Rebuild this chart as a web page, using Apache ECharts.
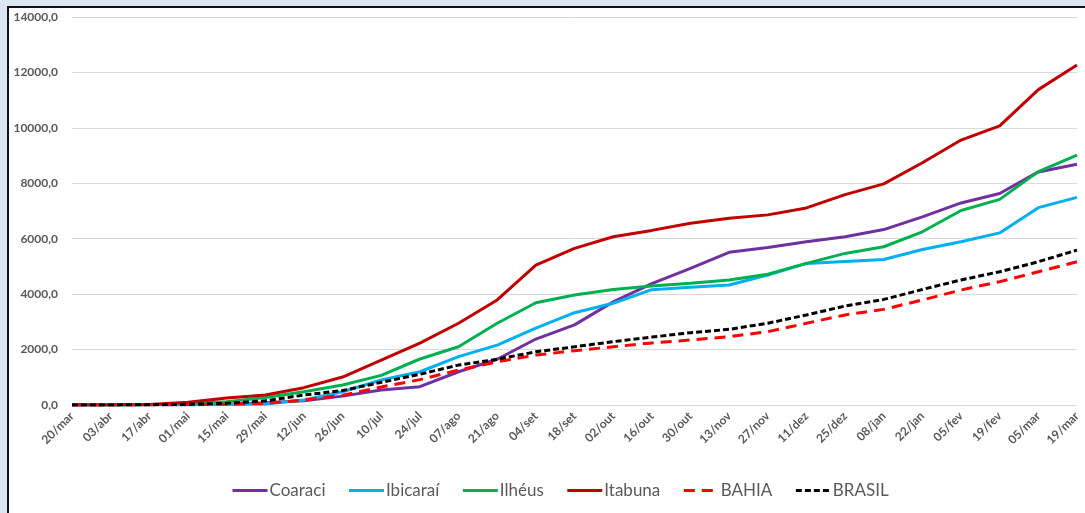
<!DOCTYPE html>
<html>
<head>
<meta charset="utf-8">
<script src="https://cdn.jsdelivr.net/npm/echarts@6/dist/echarts.min.js"></script>
<style>
  html, body { margin: 0; padding: 0; width: 1085px; height: 513px; overflow: hidden; background: #dce6f2; }
  #frame { position: absolute; left: 7px; top: 6px; width: 1100px; height: 530px; background: #fff;
           border-left: 2px solid #111; border-top: 2px solid #111; box-sizing: border-box; }
  #chart { position: absolute; left: 0; top: 0; width: 1085px; height: 513px; }
</style>
</head>
<body>
<div id="frame"></div>
<div id="chart"></div>
<script>
// Dates (fortnightly) on the category axis
const categories = ['20/mar','03/abr','17/abr','01/mai','15/mai','29/mai','12/jun','26/jun','10/jul','24/jul',
  '07/ago','21/ago','04/set','18/set','02/out','16/out','30/out','13/nov','27/nov','11/dez','25/dez',
  '08/jan','22/jan','05/fev','19/fev','05/mar','19/mar'];

// Accumulated values per locality
const coaraci  = [0, 0, 5, 10, 30, 80, 150, 320, 540, 660, 1200, 1650, 2380, 2890, 3720, 4380, 4930, 5510, 5680, 5890, 6070, 6330, 6790, 7290, 7630, 8410, 8690];
const ibicarai = [0, 0, 5, 10, 20, 40, 180, 480, 900, 1200, 1744, 2160, 2770, 3330, 3670, 4160, 4250, 4330, 4690, 5110, 5180, 5250, 5610, 5890, 6210, 7120, 7490];
const ilheus   = [0, 2, 10, 50, 120, 270, 480, 720, 1070, 1660, 2100, 2950, 3690, 3970, 4170, 4290, 4390, 4510, 4720, 5110, 5470, 5710, 6250, 7020, 7420, 8420, 9020];
const itabuna  = [0, 5, 20, 100, 250, 360, 625, 1010, 1620, 2230, 2950, 3790, 5050, 5650, 6070, 6300, 6560, 6740, 6860, 7110, 7590, 7980, 8740, 9560, 10070, 11380, 12270];
const bahia    = [0, 0, 5, 15, 30, 60, 180, 350, 650, 915, 1260, 1560, 1800, 1960, 2100, 2240, 2345, 2465, 2645, 2950, 3250, 3450, 3790, 4150, 4450, 4810, 5170];
const brasil   = [0, 2, 10, 25, 60, 150, 360, 520, 820, 1110, 1440, 1650, 1920, 2100, 2285, 2450, 2610, 2730, 2950, 3250, 3570, 3810, 4170, 4510, 4810, 5170, 5590];

const yMin = 0, yMax = 14000, yStep = 2000;

const chart = echarts.init(document.getElementById('chart'), null, { renderer: 'canvas' });

function lineSeries(name, data, color, type) {
  return {
    name: name, type: 'line', data: data,
    symbol: 'none', smooth: false, animation: false,
    lineStyle: { color: color, width: 3, type: type || 'solid', cap: 'butt' },
    itemStyle: { color: color }
  };
}

chart.setOption({
  backgroundColor: 'transparent',
  animation: false,
  grid: { left: 72, right: 8, top: 17, bottom: 108, containLabel: false },
  legend: {
    bottom: 9, left: 226,
    itemWidth: 35, itemHeight: 3, itemGap: 22,
    itemStyle: { opacity: 0 },
    lineStyle: { width: 3 },
    textStyle: { color: '#595959', fontSize: 17, fontFamily: 'Lato', padding: [0, 0, 0, -3] },
    data: ['Coaraci', 'Ibicaraí', 'Ilhéus', 'Itabuna', 'BAHIA', 'BRASIL']
  },
  xAxis: {
    type: 'category', data: categories, boundaryGap: false,
    axisLine: { show: false }, axisTick: { show: false },
    axisLabel: { rotate: 45, color: '#595959', fontSize: 12, fontWeight: 'bold', fontFamily: 'Lato',
                 margin: 9, interval: 0 }
  },
  yAxis: {
    type: 'value', min: yMin, max: yMax, interval: yStep,
    axisLine: { show: false }, axisTick: { show: false },
    splitLine: { lineStyle: { color: '#d9d9d9', width: 1 } },
    axisLabel: { color: '#595959', fontSize: 12, fontWeight: 'bold', fontFamily: 'Lato', margin: 14,
                 formatter: v => v.toFixed(1).replace('.', ',') }
  },
  series: [
    lineSeries('Coaraci', coaraci, '#7030a0'),
    lineSeries('Ibicaraí', ibicarai, '#00b0f0'),
    lineSeries('Ilhéus', ilheus, '#00b050'),
    lineSeries('Itabuna', itabuna, '#c00000'),
    lineSeries('BAHIA', bahia, '#ff0000', [11, 7]),
    lineSeries('BRASIL', brasil, '#000000', [6, 3])
  ]
});
</script>
</body>
</html>
